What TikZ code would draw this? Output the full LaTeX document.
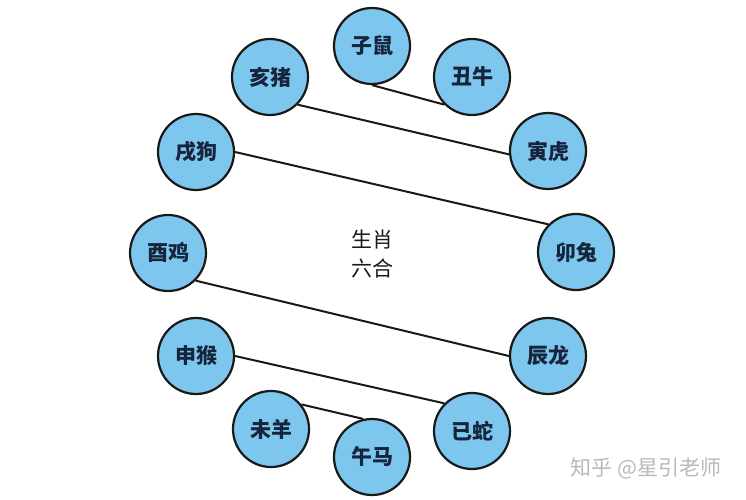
\documentclass[tikz,border=0pt]{standalone}
\usepackage{fontspec}
\setmainfont{Noto Sans CJK SC}
\newfontfamily\cjk{Noto Sans CJK SC}
\definecolor{ballfill}{RGB}{125,198,238}
\definecolor{balltext}{RGB}{22,36,60}
\definecolor{wm}{RGB}{185,185,185}
\begin{document}
\begin{tikzpicture}[x=1pt,y=-1pt,
  ball/.style={circle,draw=black!90,line width=2.2pt,fill=ballfill,minimum size=76pt,inner sep=0pt,
    font=\cjk\fontsize{21pt}{23pt}\selectfont\bfseries,text=balltext},
  link/.style={draw=black!90,line width=2pt}]
\useasboundingbox (0,0) rectangle (746,500);
\fill[white] (0,0) rectangle (746,500);
\node[ball] (zi)   at (372,46)  {子鼠};
\node[ball] (chou) at (472,77)  {丑牛};
\node[ball] (yin)  at (548,151) {寅虎};
\node[ball] (mao)  at (576,252) {卯兔};
\node[ball] (chen) at (548,356) {辰龙};
\node[ball] (si)   at (472,431) {已蛇};
\node[ball] (wu)   at (372,457) {午马};
\node[ball] (wei)  at (271,429) {未羊};
\node[ball] (shen) at (196,356) {申猴};
\node[ball] (you)  at (168,253) {酉鸡};
\node[ball] (xu)   at (196,152) {戌狗};
\node[ball] (hai)  at (270,77)  {亥猪};
\draw[link] (zi.-90) -- (chou.-135);
\draw[link] (hai.-45) -- (yin.185);
\draw[link] (xu.0) -- (mao.135);
\draw[link] (you.-45) -- (chen.180);
\draw[link] (shen.0) -- (si.135);
\draw[link] (wei.39) -- (wu.103);
\node[align=center,font=\cjk\fontsize{21pt}{29pt}\selectfont,text=black!90] (title) at (372,254) {生肖\\六合};
\node[font=\cjk\fontsize{21pt}{23pt}\selectfont,text=wm,anchor=center] (mark) at (646,468) {知乎 @星引老师};
\end{tikzpicture}
\end{document}
